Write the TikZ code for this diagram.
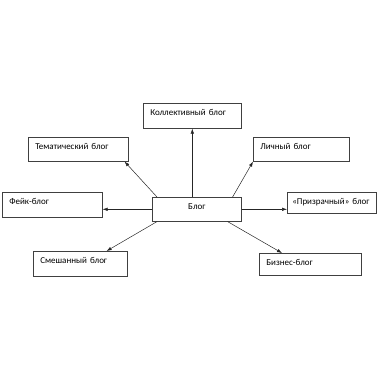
\documentclass[tikz,border=0pt]{standalone}
\usepackage{fontspec}
\setmainfont{Carlito}
\usepackage{tikz}
\usetikzlibrary{arrows.meta,positioning}

\begin{document}
\begin{tikzpicture}[
  x=1pt,y=-1pt,
  font=\fontsize{9}{10}\selectfont,
  box/.style={draw=black!75,line width=0.6pt,anchor=north west,inner xsep=7pt,inner ysep=4pt,text height=8pt,align=left},
  arr/.style={-{Latex[length=5pt,width=3.5pt]},line width=0.5pt,color=black!85},
]
\useasboundingbox (0,0) rectangle (380,380);

% центр
\node[box,text width=75pt,text depth=8pt,align=center] (blog) at (152,197) {Блог};

% виды блогов
\node[box,text width=84pt,text depth=9pt] (coll) at (143,103) {Коллективный блог};
\node[box,text width=86pt,text depth=8pt] (them) at (28,137) {Тематический блог};
\node[box,text width=82pt,text depth=8pt] (pers) at (253,137) {Личный блог};
\node[box,text width=86pt,text depth=9pt] (fake) at (2,192) {Фейк-блог};
\node[box,inner xsep=5pt,text width=79pt,text depth=5pt] (ghost) at (287,192) {\mbox{«Призрачный» блог}};
\node[box,text width=80pt,text depth=9pt] (mixed) at (33,251) {Смешанный блог};
\node[box,text width=88pt,text depth=6pt] (biz) at (259,253) {Бизнес-блог};

% связи
\draw[arr] (coll.south |- blog.north) -- (coll.south);
\draw[arr] ([xshift=5pt]blog.north west) -- ([xshift=-4pt]them.south east);
\draw[arr] ([xshift=-9pt]blog.north east) -- (pers.south west);
\draw[arr] (blog.west) -- (fake.east |- blog.west);
\draw[arr] (blog.east) -- (ghost.west |- blog.east);
\draw[arr] ([xshift=5pt]blog.south west) -- ([xshift=-21pt]mixed.north east);
\draw[arr] ([xshift=-14pt]blog.south east) -- ([xshift=23pt]biz.north west);

\end{tikzpicture}
\end{document}
